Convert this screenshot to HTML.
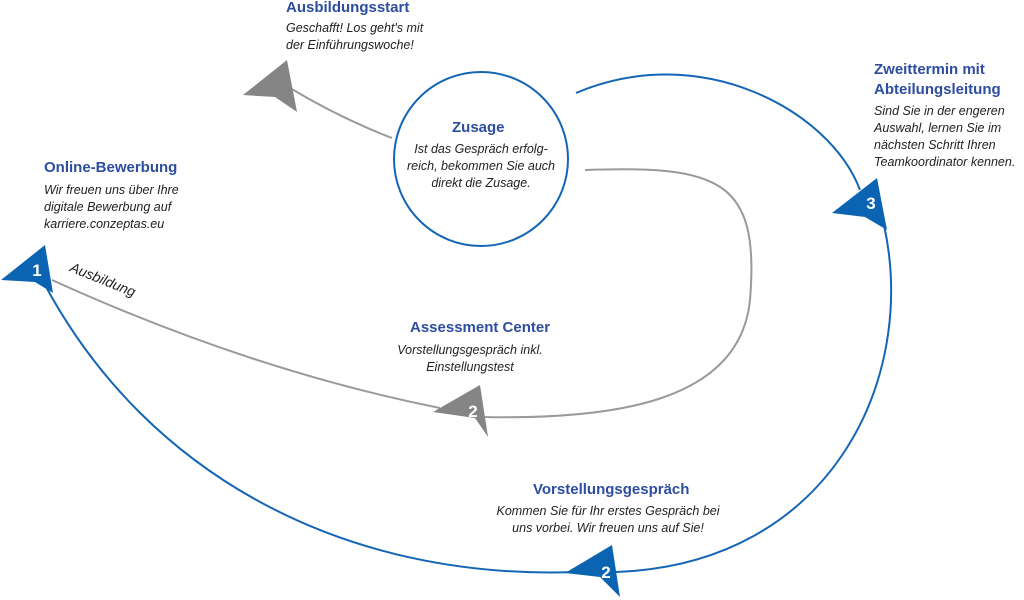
<!DOCTYPE html>
<html><head><meta charset="utf-8"><style>
body{margin:0;width:1024px;height:600px;background:#fff;position:relative;overflow:hidden;font-family:"Liberation Sans",sans-serif}
.h{position:absolute;color:#2d4da1;font-weight:bold;font-size:15px;line-height:20px;white-space:nowrap}
.t{position:absolute;color:#222;font-style:italic;font-size:12.5px;line-height:17px;white-space:nowrap}
svg{position:absolute;left:0;top:0}
</style></head><body>
<svg width="1024" height="600">
<g fill="none" stroke-width="2">
<path d="M576,93 C700,40 830,110 860,190" stroke="#1466b4"/>
<path d="M884,225 C918,380 830,565 615,572" stroke="#1466b4"/>
<path d="M575,572 C350,580 150,480 45,285" stroke="#1466b4"/>
<path d="M52,280 Q250,370 440,408" stroke="#9a9a9a"/>
<path d="M482,417 C620,420 740,400 750,300 C760,180 720,165 585,170" stroke="#9a9a9a"/>
<path d="M392,138 Q340,118 290,88" stroke="#9a9a9a"/>
</g>
<circle cx="481" cy="159" r="87" fill="#fff" stroke="#1466b4" stroke-width="2"/>
<polygon points="1,280 45,245 53,293 35,282" fill="#0b64b2"/>
<polygon points="832,213 877,178 887,230 865,217" fill="#0b64b2"/>
<polygon points="565,573 612,545 620,597 600,577" fill="#0b64b2"/>
<polygon points="433,412 480,385 488,437 475,418" fill="#858585"/>
<polygon points="243,95 287,60 297,112 275,97" fill="#858585"/>
<g fill="#fff" font-family="Liberation Sans" font-weight="bold" font-size="17" text-anchor="middle">
<text x="37" y="276">1</text><text x="871" y="209">3</text><text x="606" y="578">2</text><text x="473" y="417">2</text>
</g>
<text x="69" y="271" font-family="Liberation Sans" font-style="italic" font-size="14" fill="#222" transform="rotate(22 69 271)">Ausbildung</text>
</svg>
<div class="h" style="left:286px;top:-2px">Ausbildungsstart</div>
<div class="t" style="left:286px;top:20px">Geschafft! Los geht's mit<br>der Einführungswoche!</div>
<div class="h" style="left:452px;top:118px">Zusage</div>
<div class="t" style="left:391px;top:141px;width:180px;text-align:center">Ist das Gespräch erfolg-<br>reich, bekommen Sie auch<br>direkt die Zusage.</div>
<div class="h" style="left:874px;top:60px">Zweittermin mit<br>Abteilungsleitung</div>
<div class="t" style="left:874px;top:103px">Sind Sie in der engeren<br>Auswahl, lernen Sie im<br>nächsten Schritt Ihren<br>Teamkoordinator kennen.</div>
<div class="h" style="left:44px;top:158px">Online-Bewerbung</div>
<div class="t" style="left:44px;top:182px">Wir freuen uns über Ihre<br>digitale Bewerbung auf<br>karriere.conzeptas.eu</div>
<div class="h" style="left:410px;top:318px">Assessment Center</div>
<div class="t" style="left:375px;top:342px;width:190px;text-align:center">Vorstellungsgespräch inkl.<br>Einstellungstest</div>
<div class="h" style="left:533px;top:480px">Vorstellungsgespräch</div>
<div class="t" style="left:483px;top:503px;width:250px;text-align:center">Kommen Sie für Ihr erstes Gespräch bei<br>uns vorbei. Wir freuen uns auf Sie!</div>
</body></html>
